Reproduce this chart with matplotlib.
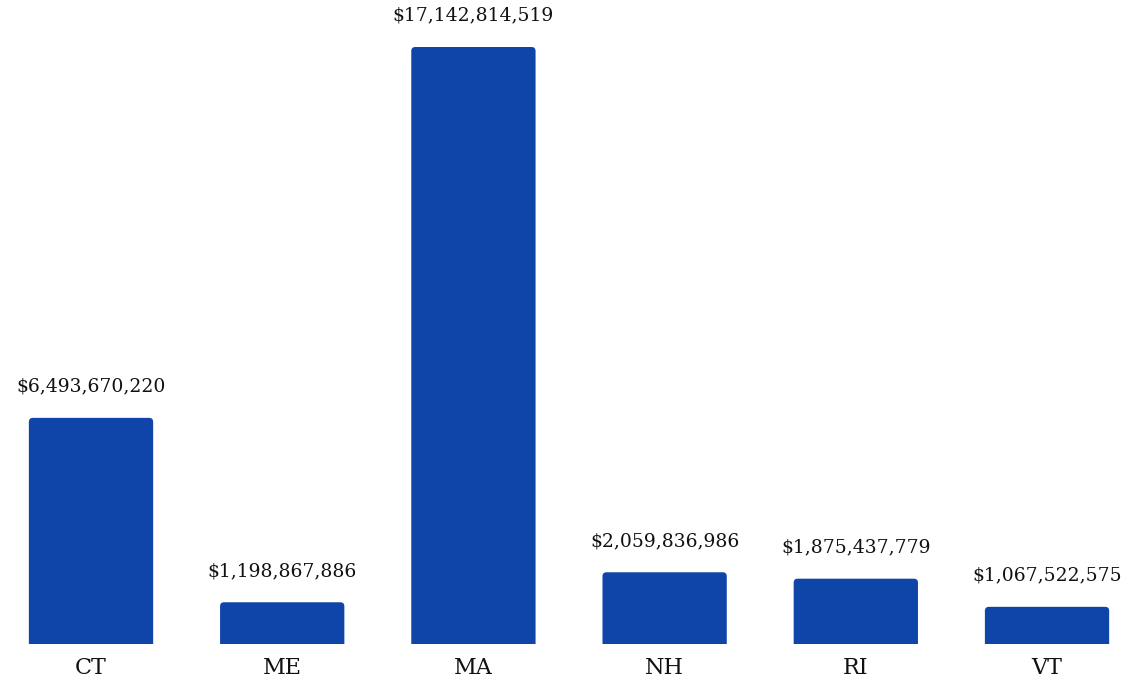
import matplotlib.pyplot as plt
from matplotlib.patches import FancyBboxPatch

states = ['CT', 'ME', 'MA', 'NH', 'RI', 'VT']
totals = [6493670220, 1198867886, 17142814519, 2059836986, 1875437779, 1067522575]

bar_color = '#0F45A8'
bar_width = 0.65

fig = plt.figure(figsize=(11.3, 6.81), dpi=100)
ax = fig.add_axes([0, 37 / 681, 1, 1 - 37 / 681])
ax.set_xlim(-0.476, 5.434)
ax.set_ylim(0, max(totals) * 644 / 597)

# axis units per pixel, used to keep the corner rounding circular
x_per_px = (5.434 + 0.476) / 1130
y_per_px = max(totals) * 644 / 597 / 644
radius = 4 * x_per_px

for i, (st, v) in enumerate(zip(states, totals)):
    # start a little below zero so only the top corners show as rounded
    patch = FancyBboxPatch((i - bar_width / 2, -10 * y_per_px), bar_width, v + 10 * y_per_px,
                           boxstyle=f'round,pad=0,rounding_size={radius}',
                           mutation_aspect=y_per_px / x_per_px,
                           facecolor=bar_color, edgecolor='none')
    ax.add_patch(patch)
    ax.annotate(f'${v:,}', (i, v), xytext=(0, 16), textcoords='offset points',
                ha='center', va='bottom', fontsize=13.5, family='DejaVu Serif',
                color='#111111')

ax.set_xticks(range(len(states)))
ax.set_xticklabels(states, family='DejaVu Serif', fontsize=16, color='#111111')
ax.tick_params(axis='x', length=0, pad=9)
ax.set_yticks([])
for s in ax.spines.values():
    s.set_visible(False)

fig.savefig('out.png', dpi=100)
